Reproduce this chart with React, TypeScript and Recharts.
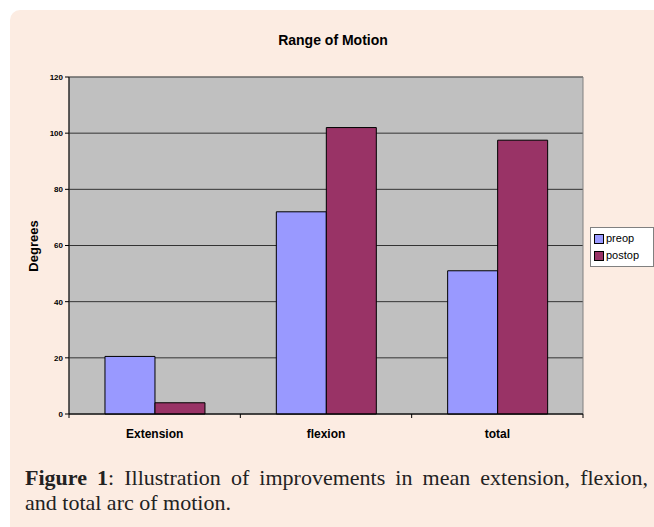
import React from "react";
import { BarChart, Bar, XAxis, YAxis, CartesianGrid, ReferenceArea } from "recharts";

const categories = ["Extension", "flexion", "total"];
const preop = [20.5, 72, 51];
const postop = [4, 102, 97.5];
const yTicks = [0, 20, 40, 60, 80, 100, 120];
const series = [
	{ key: "preop", color: "#9999ff" },
	{ key: "postop", color: "#993366" },
];

const data = categories.map((name, i) => ({ name, preop: preop[i], postop: postop[i] }));

const PLOT_LEFT = 69;
const PLOT_RIGHT = 583;
const BAND = (PLOT_RIGHT - PLOT_LEFT) / categories.length;

const font = "'Liberation Sans', Arial, sans-serif";

const XTick = (props: any) => {
	const { x, y, payload, index } = props;
	return (
		<g>
			<line x1={x - BAND / 2} y1={y - 8} x2={x - BAND / 2} y2={y - 4} stroke="#000" />
			{index === categories.length - 1 && (
				<line x1={x + BAND / 2} y1={y - 8} x2={x + BAND / 2} y2={y - 4} stroke="#000" />
			)}
			<text x={x} y={y + 16} textAnchor="middle" fontFamily={font} fontWeight="bold" fontSize={12} fill="#000">
				{payload.value}
			</text>
		</g>
	);
};

const LegendBox = () => (
	<div
		style={{
			position: "absolute",
			left: 590,
			top: 227,
			width: 56,
			background: "#fff",
			border: "1px solid #808080",
			padding: "2px 3px",
			fontFamily: font,
			fontSize: 11,
			lineHeight: "17px",
		}}
	>
		{series.map((d) => (
			<div key={d.key} style={{ display: "flex", alignItems: "center" }}>
				<span
					style={{
						display: "inline-block",
						width: 8,
						height: 8,
						background: d.color,
						border: "1px solid #000",
						marginRight: 2,
					}}
				/>
				{d.key}
			</div>
		))}
	</div>
);

export default function App() {
	return (
		<div style={{ position: "absolute", left: 0, top: 0, width: 654, height: 527, background: "#fff", overflow: "hidden" }}>
			<div
				style={{
					position: "absolute",
					left: 10,
					top: 10,
					width: 660,
					height: 530,
					background: "#fcece2",
					borderTopLeftRadius: 10,
				}}
			/>
			<div
				style={{
					position: "absolute",
					left: 0,
					top: 32,
					width: 666,
					textAlign: "center",
					fontFamily: font,
					fontWeight: "bold",
					fontSize: 14,
				}}
			>
				Range of Motion
			</div>
			<div
				style={{
					position: "absolute",
					left: 33,
					top: 246,
					transform: "translate(-50%, -50%) rotate(-90deg)",
					fontFamily: font,
					fontWeight: "bold",
					fontSize: 13,
				}}
			>
				Degrees
			</div>
			<div style={{ position: "absolute", left: 0, top: 0 }}>
				<BarChart
					width={654}
					height={460}
					data={data}
					margin={{ top: 77, right: 654 - PLOT_RIGHT, bottom: 0, left: 0 }}
					barCategoryGap="21%"
					barGap={0}
				>
					<CartesianGrid vertical={false} fill="#c0c0c0" stroke="#333" strokeOpacity={1} />
					<ReferenceArea y1={0} y2={120} fill="none" stroke="#808080" ifOverflow="visible" />
					<XAxis
						dataKey="name"
						height={46}
						tickLine={false}
						axisLine={{ stroke: "#000" }}
						tick={<XTick />}
						interval={0}
					/>
					<YAxis
						width={PLOT_LEFT}
						domain={[0, 120]}
						ticks={yTicks}
						interval={0}
						tickSize={4}
						tickLine={{ stroke: "#000" }}
						axisLine={{ stroke: "#000" }}
						tick={{ fontFamily: font, fontWeight: "bold", fontSize: 8, fill: "#000" }}
					/>
					{series.map((s) => (
						<Bar key={s.key} dataKey={s.key} fill={s.color} stroke="#000" strokeWidth={1} isAnimationActive={false} />
					))}
				</BarChart>
			</div>
			<LegendBox />
			<div
				style={{
					position: "absolute",
					left: 25,
					top: 465,
					width: 623,
					fontFamily: "'Liberation Serif', 'Times New Roman', serif",
					fontSize: 22,
					lineHeight: "25px",
					color: "#222",
				}}
			>
				<div style={{ textAlign: "justify", textAlignLast: "justify" }}>
					<b>Figure 1</b>: Illustration of improvements in mean extension, flexion,
				</div>
				<div>and total arc of motion.</div>
			</div>
		</div>
	);
}
